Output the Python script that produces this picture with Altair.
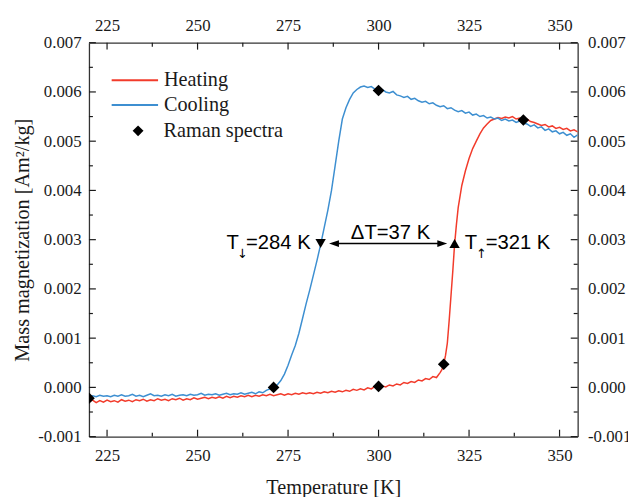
import altair as alt
import pandas as pd

# ---------------- data ----------------
series_names = ["Heating", "Cooling"]

heat_T = list(range(220, 318)) + [317.5, 318, 318.5, 319, 319.5, 320, 320.5, 321, 321.5, 322] + list(range(323, 356))
heat_M = [
    -0.00029, -0.00026, -0.00031, -0.00027, -0.00030, -0.00026, -0.00029, -0.00027, -0.00030, -0.00025,
    -0.00028, -0.00026, -0.00029, -0.00025, -0.00027, -0.00024, -0.00028, -0.00025, -0.00027, -0.00023,
    -0.00026, -0.00024, -0.00027, -0.00023, -0.00025, -0.00022, -0.00026, -0.00023, -0.00025, -0.00021,
    -0.00024, -0.00022, -0.00020, -0.00023, -0.00020, -0.00022, -0.00019, -0.00022, -0.00018, -0.00021,
    -0.00018, -0.00020, -0.00017, -0.00019, -0.00016, -0.00019, -0.00016, -0.00018, -0.00015, -0.00017,
    -0.00014, -0.00017, -0.00015, -0.00013, -0.00016, -0.00013, -0.00015, -0.00012, -0.00014, -0.00011,
    -0.00013, -0.00011, -0.00013, -0.00010, -0.00012, -0.00009, -0.00011, -0.00008, -0.00010, -0.00007,
    -0.00009, -0.00006, -0.00008, -0.00004, -0.00006, -0.00003, -0.00005, -0.00001, -0.00003, 0.00002,
    0.00000, 0.00003, 0.00001, 0.00005, 0.00003, 0.00007, 0.00005, 0.00010, 0.00008, 0.00012,
    0.00010, 0.00015, 0.00013, 0.00018, 0.00016, 0.00022, 0.00020, 0.00030,
    0.00036, 0.00047, 0.00065, 0.00090, 0.00135, 0.00185, 0.00235, 0.00290, 0.00330, 0.00365,
    0.00410, 0.00440, 0.00465, 0.00485, 0.00500, 0.00515, 0.00527, 0.00535, 0.00542, 0.00545,
    0.00548, 0.00546, 0.00549, 0.00547, 0.00550, 0.00545, 0.00547, 0.00543, 0.00545, 0.00540,
    0.00538, 0.00535, 0.00532, 0.00534, 0.00529, 0.00531, 0.00526, 0.00528, 0.00524, 0.00526,
    0.00521, 0.00523, 0.00519,
]

cool_T = list(range(220, 356))
cool_M = [
    -0.00020, -0.00017, -0.00019, -0.00016, -0.00018, -0.00017, -0.00019, -0.00016, -0.00018, -0.00015,
    -0.00018, -0.00017, -0.00014, -0.00018, -0.00016, -0.00019, -0.00016, -0.00013, -0.00017, -0.00016,
    -0.00018, -0.00015, -0.00017, -0.00014, -0.00018, -0.00016, -0.00015, -0.00017, -0.00014, -0.00016,
    -0.00015, -0.00012, -0.00016, -0.00014, -0.00015, -0.00013, -0.00016, -0.00014, -0.00012, -0.00015,
    -0.00013, -0.00014, -0.00011, -0.00014, -0.00012, -0.00010, -0.00013, -0.00009, -0.00011, -0.00006,
    -0.00003, 0.00000, 0.00005, 0.00014, 0.00027, 0.00045, 0.00066, 0.00085, 0.00110, 0.00140,
    0.00170, 0.00198, 0.00228, 0.00258, 0.00290, 0.00325, 0.00360, 0.00400, 0.00450, 0.00500,
    0.00545, 0.00568, 0.00585, 0.00598, 0.00605, 0.00610, 0.00612, 0.00609, 0.00611, 0.00606,
    0.00603, 0.00605, 0.00600, 0.00598, 0.00601, 0.00594, 0.00592, 0.00589, 0.00591, 0.00585,
    0.00587, 0.00582, 0.00579, 0.00581, 0.00576, 0.00578, 0.00573, 0.00570, 0.00572, 0.00566,
    0.00568, 0.00563, 0.00560, 0.00562, 0.00557, 0.00559, 0.00553, 0.00555, 0.00550, 0.00552,
    0.00547, 0.00549, 0.00545, 0.00547, 0.00542, 0.00545, 0.00541, 0.00543, 0.00538, 0.00541,
    0.00537, 0.00535, 0.00530, 0.00533, 0.00527, 0.00529, 0.00522, 0.00525, 0.00519, 0.00521,
    0.00515, 0.00518, 0.00512, 0.00515, 0.00508, 0.00513,
]

raman_T = [220, 271, 300, 300, 318, 340]
raman_M = [-0.00022, 0.0, 0.00603, 0.00002, 0.00047, 0.00543]

down_T, down_M = [284], [0.00292]
up_T, up_M = [321], [0.00292]

arrow_T = [287.7]
arrow_T2 = [317.6]
arrow_M = [0.00292]
head_left_T, head_right_T = [287.7], [317.6]

dT_text_T, dT_text_M = [303.3], [0.00302]
lab_T = ["T", "T"]
lab_T_x = [261.4, 327.2]
lab_rest = ["=284 K", "=321 K"]
lab_rest_x = [263.4, 329.6]
lab_M = [0.00282, 0.00282]
sub_arrow = ["↓", "↑"]
sub_x = [262.4, 328.4]
sub_M = [0.00263, 0.00263]

x_major = [225, 250, 275, 300, 325, 350]
x_minor = [237.5, 262.5, 287.5, 312.5, 337.5]
y_major = [-0.001, 0.0, 0.001, 0.002, 0.003, 0.004, 0.005, 0.006, 0.007]
y_minor = [-0.0005, 0.0005, 0.0015, 0.0025, 0.0035, 0.0045, 0.0055, 0.0065]

# ---------------- styling ----------------
W, H = 495, 399
RED = "#f23b2b"
BLUE = "#3d8fd1"
INK = "#1a1a1a"
SERIF = "Liberation Serif"
SANS = "Liberation Sans"

xscale = alt.Scale(domain=[220, 355], nice=False, zero=False)
yscale = alt.Scale(domain=[-0.001, 0.007], nice=False, zero=False)
ylab = "datum.value < 0 ? '-' + format(-datum.value, '.3f') : format(datum.value, '.3f')"
AX = dict(labelFont=SERIF, labelFontSize=17, labelColor=INK, titleFont=SERIF,
          titleFontSize=20.5, titleFontWeight="normal", titleColor=INK,
          grid=False, ticks=False, domainColor="#333333", domainWidth=1.3, labelOverlap=False)

heat_df = pd.DataFrame({"T": heat_T, "M": heat_M, "series": "Heating"})
cool_df = pd.DataFrame({"T": cool_T, "M": cool_M, "series": "Cooling"})
raman_df = pd.DataFrame({"T": raman_T, "M": raman_M, "label": "Raman spectra"})

color_enc = alt.Color(
    "series:N",
    scale=alt.Scale(domain=series_names, range=[RED, BLUE]),
    legend=alt.Legend(
        title=None, orient="none", legendX=22, legendY=25.5,
        symbolType="stroke", symbolSize=2209, symbolStrokeWidth=2,
        labelFont=SERIF, labelFontSize=20.5, labelColor=INK, labelOffset=5,
        clipHeight=25, rowPadding=0, padding=0,
    ),
)

X0 = lambda: alt.X("T:Q", scale=xscale, axis=None)
Y0 = lambda: alt.Y("M:Q", scale=yscale, axis=None)

heat = alt.Chart(heat_df).mark_line(strokeWidth=1.5, clip=True).encode(
    x=alt.X("T:Q", scale=xscale, axis=alt.Axis(orient="bottom", title="Temperature [K]",
            values=x_major, format="d", labelPadding=11, titlePadding=15, **AX)),
    y=alt.Y("M:Q", scale=yscale, axis=alt.Axis(orient="left", title="Mass magnetization [Am²/kg]",
            values=y_major, labelExpr=ylab, labelPadding=8, titlePadding=5, **AX)),
    color=color_enc,
)
cool = alt.Chart(cool_df).mark_line(strokeWidth=1.5, clip=True).encode(x=X0(), y=Y0(), color=color_enc)

raman = alt.Chart(raman_df).mark_point(filled=True, color="black", size=140, opacity=1, clip=True).encode(
    x=X0(), y=Y0(),
    shape=alt.Shape("label:N", scale=alt.Scale(domain=["Raman spectra"], range=["diamond"]),
        legend=alt.Legend(title=None, orient="none", legendX=39.5, legendY=79,
                          symbolSize=121, symbolFillColor="black", symbolStrokeWidth=0,
                          labelFont=SERIF, labelFontSize=20.5, labelColor=INK,
                          labelOffset=15.5, padding=0)),
)

down = alt.Chart(pd.DataFrame({"T": down_T, "M": down_M})).mark_point(
    shape="triangle-down", filled=True, color="black", size=110, opacity=1).encode(x=X0(), y=Y0())
up = alt.Chart(pd.DataFrame({"T": up_T, "M": up_M})).mark_point(
    shape="triangle-up", filled=True, color="black", size=110, opacity=1).encode(x=X0(), y=Y0())

arrow = alt.Chart(pd.DataFrame({"T": arrow_T, "T2": arrow_T2, "M": arrow_M})).mark_rule(
    color="black", strokeWidth=1.5).encode(x=X0(), x2="T2:Q", y=Y0())
head_l = alt.Chart(pd.DataFrame({"T": head_left_T, "M": arrow_M})).mark_point(
    shape="M-1,0L1,-0.7L1,0.7Z", filled=True, color="black", size=100, opacity=1).encode(x=X0(), y=Y0())
head_r = alt.Chart(pd.DataFrame({"T": head_right_T, "M": arrow_M})).mark_point(
    shape="M1,0L-1,-0.7L-1,0.7Z", filled=True, color="black", size=100, opacity=1).encode(x=X0(), y=Y0())

dT_text = alt.Chart(pd.DataFrame({"T": dT_text_T, "M": dT_text_M, "t": ["ΔT=37 K"]})).mark_text(
    font=SANS, fontSize=20.5, color="black", align="center", baseline="alphabetic").encode(x=X0(), y=Y0(), text="t:N")
t_text = alt.Chart(pd.DataFrame({"T": lab_T_x, "M": lab_M, "t": lab_T})).mark_text(
    font=SANS, fontSize=20.5, color="black", align="right", baseline="alphabetic").encode(x=X0(), y=Y0(), text="t:N")
rest_text = alt.Chart(pd.DataFrame({"T": lab_rest_x, "M": lab_M, "t": lab_rest})).mark_text(
    font=SANS, fontSize=20.5, color="black", align="left", baseline="alphabetic").encode(x=X0(), y=Y0(), text="t:N")
sub_text = alt.Chart(pd.DataFrame({"T": sub_x, "M": sub_M, "t": sub_arrow})).mark_text(
    font="DejaVu Sans", fontSize=13, color="black", align="center", baseline="alphabetic").encode(x=X0(), y=Y0(), text="t:N")


def xticks(vals, length, side, axis=None):
    y0 = H if side == "bottom" else 0
    y1 = H - length if side == "bottom" else length
    return alt.Chart(pd.DataFrame({"v": vals})).mark_rule(color=INK, strokeWidth=1.2).encode(
        x=alt.X("v:Q", scale=xscale, axis=axis), y=alt.value(y0), y2=alt.value(y1))


def yticks(vals, length, side, axis=None):
    x0 = 0 if side == "left" else W
    x1 = length if side == "left" else W - length
    return alt.Chart(pd.DataFrame({"v": vals})).mark_rule(color=INK, strokeWidth=1.2).encode(
        y=alt.Y("v:Q", scale=yscale, axis=axis), x=alt.value(x0), x2=alt.value(x1))


top_axis = alt.Axis(orient="top", title=None, values=x_major, format="d", labelPadding=8, **AX)
right_axis = alt.Axis(orient="right", title=None, values=y_major, labelExpr=ylab, labelPadding=10, **AX)

ticks = [
    xticks(x_major, 7, "bottom"), xticks(x_minor, 4, "bottom"),
    xticks(x_major, 7, "top", top_axis), xticks(x_minor, 4, "top"),
    yticks(y_major, 7, "left"), yticks(y_minor, 4, "left"),
    yticks(y_major, 7, "right", right_axis), yticks(y_minor, 4, "right"),
]

chart = alt.layer(
    heat, cool, *ticks, raman, down, up, arrow, head_l, head_r, dT_text, t_text, rest_text, sub_text
).resolve_axis(x="independent", y="independent").properties(
    width=W, height=H,
    autosize=alt.AutoSizeParams(type="none"),
    padding={"left": 82, "top": 32, "right": 51, "bottom": 58},
).configure_view(stroke=None).configure_axis(**AX)

chart.save("out.html", embed_options={"renderer": "svg", "actions": False})
